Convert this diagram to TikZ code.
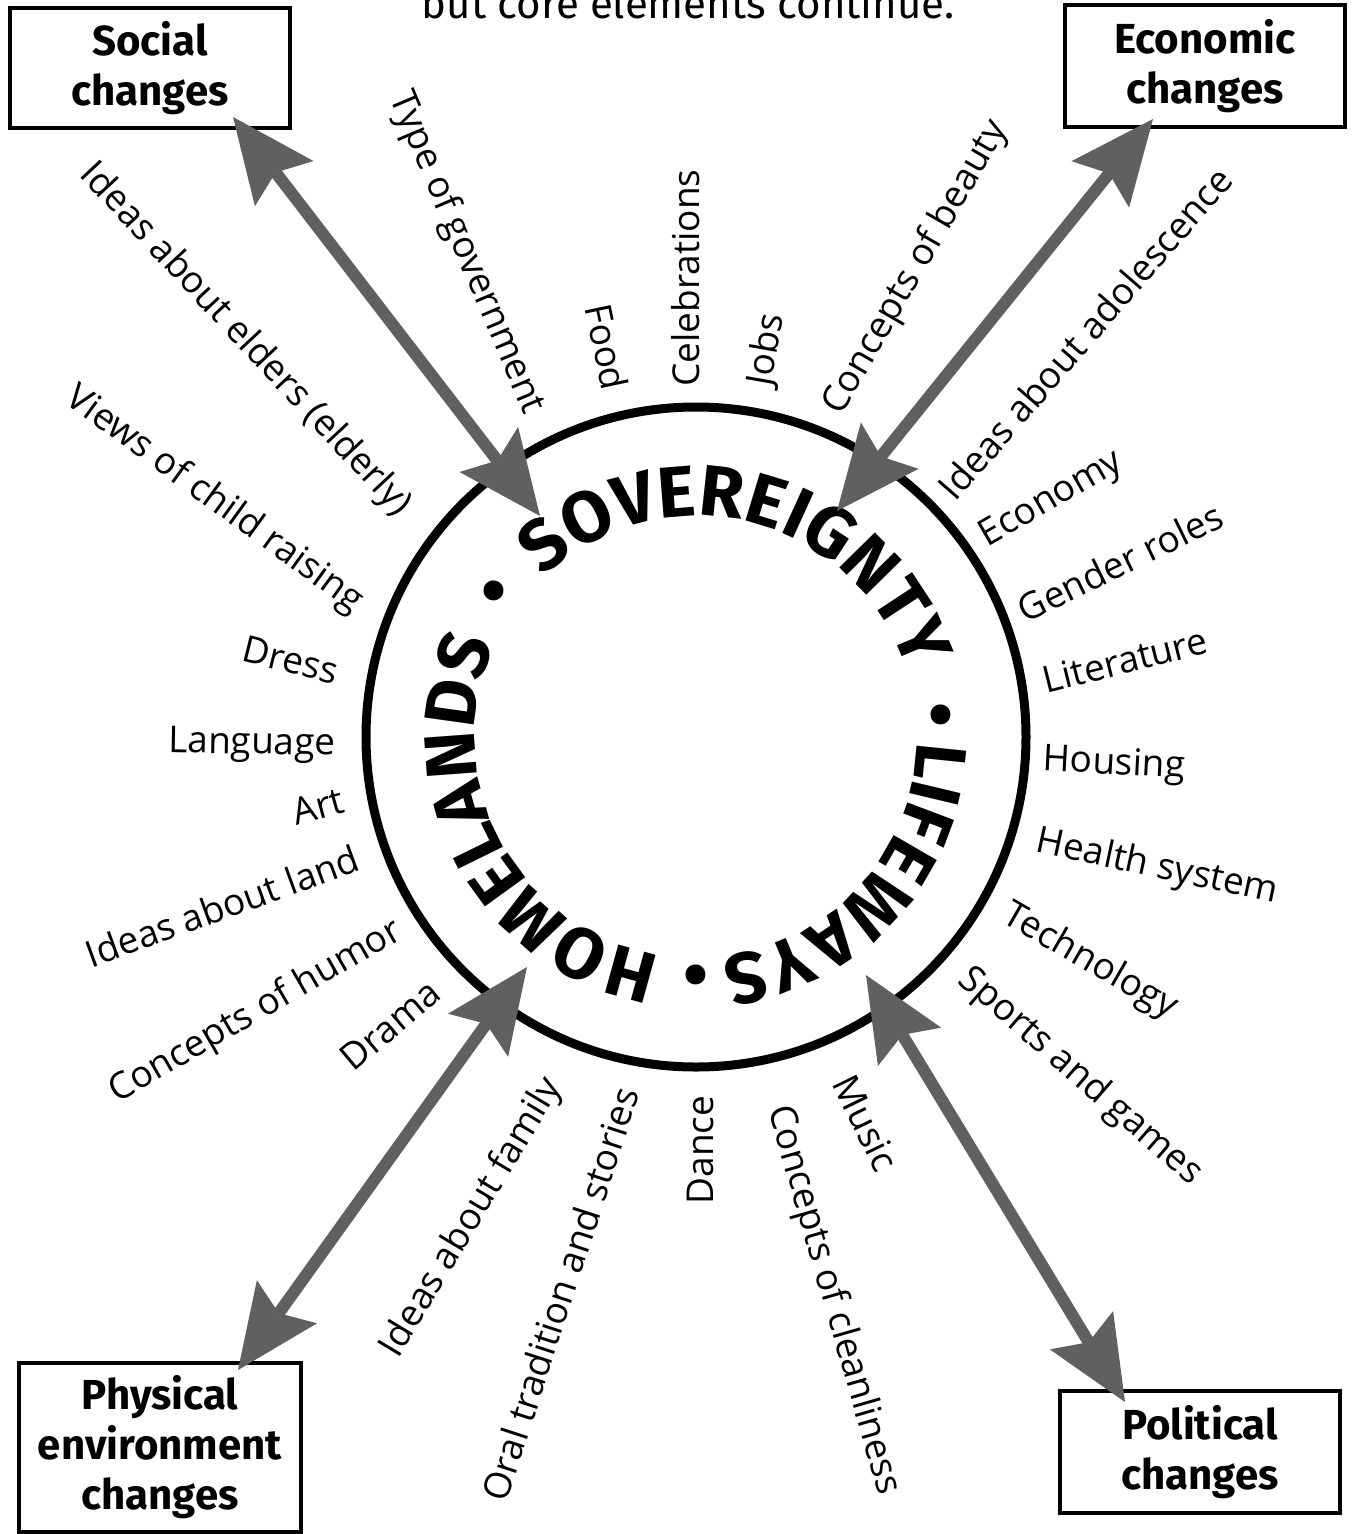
\documentclass[tikz,border=0pt]{standalone}
\usepackage{fontspec}
\setmainfont{Open Sans}
\setsansfont{Fira Sans}
\usepackage{tikz}
\usetikzlibrary{arrows.meta}
\usetikzlibrary{decorations.text}
\usetikzlibrary{calc}
\definecolor{arrowgray}{HTML}{606060}
\newcommand{\itemfont}{\fontsize{37pt}{40pt}\selectfont}
\newcommand{\boxfont}{\sffamily\bfseries\fontsize{42pt}{50pt}\selectfont}
\newcommand{\ringfont}{\sffamily\bfseries\fontsize{72pt}{74pt}\selectfont}
\tikzset{
  change box/.style={draw,line width=4pt,fill=white,align=center,font=\boxfont,inner sep=0pt},
  item/.style={font=\itemfont,inner sep=0pt},
  ring/.style={circle,draw,line width=9pt,inner sep=0pt,minimum size=660pt},
  dot/.style={font=\ringfont,inner sep=0pt},
  both ways/.style={arrowgray,line width=12pt,
    {Stealth[length=84pt,width=74pt,inset=14pt,line width=0pt]}-{Stealth[length=84pt,width=74pt,inset=14pt,line width=0pt]}},
  ring text/.style={decorate,decoration={text along path,text align=center,text={|\ringfont|#1}}}
}

\begin{document}
\begin{tikzpicture}[x=1pt,y=1pt]
  \useasboundingbox (0,0) rectangle (1353,-1534);

  \node[font=\sffamily\fontsize{42pt}{50pt}\selectfont,anchor=base] (motto) at (688,-18) {but core elements continue.};

  % the circle and its words
  \node[ring] (ring) at (696,-737) {};
  \path[ring text=SOVEREIGNTY] ($(ring)+(150.4:221)$) arc[start angle=150.4,end angle=0.4,radius=221pt];
  \path[ring text=LIFEWAYS] ($(ring)+(17.7:221)$) arc[start angle=17.7,end angle=-102.3,radius=221pt];
  \path[ring text=HOMELANDS] ($(ring)+(-82:221)$) arc[start angle=-82,end angle=-222,radius=221pt];
  \foreach \a/\n in {145.5/dotA,3.5/dotB,-90/dotC}
    \node[dot] (\n) at ($(ring)+(\a:245)$) {•};

  % the elements round the circle
  \node[item,rotate=-67] (gov) at (466,-253) {Type of government};
  \node[item,rotate=-78] (food) at (607,-347) {Food};
  \node[item,rotate=90] (celeb) at (686,-278) {Celebrations};
  \node[item,rotate=80] (jobs) at (767,-350) {Jobs};
  \node[item,rotate=60] (beauty) at (916,-268) {Concepts of beauty};
  \node[item,rotate=49] (adol) at (1085,-333) {Ideas about adolescence};
  \node[item,rotate=30] (econ) at (1052,-500) {Economy};
  \node[item,rotate=26] (gender) at (1120,-562) {Gender roles};
  \node[item,rotate=14] (lit) at (1125,-660) {Literature};
  \node[item,rotate=-3] (housing) at (1114,-765) {Housing};
  \node[item,rotate=-12] (health) at (1157,-868) {Health system};
  \node[item,rotate=-30] (tech) at (1090,-962) {Technology};
  \node[item,rotate=-41] (sports) at (1080,-1077) {Sports and games};
  \node[item,rotate=-64] (music) at (866,-1123) {Music};
  \node[item,rotate=-74] (clean) at (833,-1300) {Concepts of cleanliness};
  \node[item,rotate=90] (dance) at (700,-1150) {Dance};
  \node[item,rotate=72] (oral) at (560,-1294) {Oral tradition and stories};
  \node[item,rotate=59] (family) at (472,-1218) {Ideas about family};
  \node[item,rotate=40] (drama) at (390,-1025) {Drama};
  \node[item,rotate=30] (humor) at (256,-1012) {Concepts of humor};
  \node[item,rotate=20] (land) at (222,-906) {Ideas about land};
  \node[item,rotate=15] (art) at (318,-806) {Art};
  \node[item,rotate=-1] (lang) at (252,-745) {Language};
  \node[item,rotate=-14] (dress) at (291,-660) {Dress};
  \node[item,rotate=-36] (child) at (214,-500) {Views of child raising};
  \node[item,rotate=-47] (elders) at (245,-340) {Ideas about elders (elderly)};

  % the four kinds of change
  \node[change box,minimum width=280pt,minimum height=120pt] (social) at (150,-68) {Social\\changes};
  \node[change box,minimum width=280pt,minimum height=122pt] (economic) at (1205,-66) {Economic\\changes};
  \node[change box,minimum width=282pt,minimum height=169pt] (physical) at (160,-1447) {Physical\\environment\\changes};
  \node[change box,minimum width=280pt,minimum height=122pt] (political) at (1200,-1452) {Political\\changes};

  \coordinate (socialTip) at (233,-117);
  \coordinate (socialIn) at (540,-516);
  \coordinate (economicTip) at (1153,-119);
  \coordinate (economicIn) at (837,-511);
  \coordinate (physicalTip) at (238,-1370);
  \coordinate (physicalIn) at (527,-967);
  \coordinate (politicalTip) at (1125,-1402);
  \coordinate (politicalIn) at (866,-975);

  \draw[both ways] (socialTip) -- (socialIn);
  \draw[both ways] (economicTip) -- (economicIn);
  \draw[both ways] (physicalTip) -- (physicalIn);
  \draw[both ways] (politicalTip) -- (politicalIn);
\end{tikzpicture}
\end{document}
